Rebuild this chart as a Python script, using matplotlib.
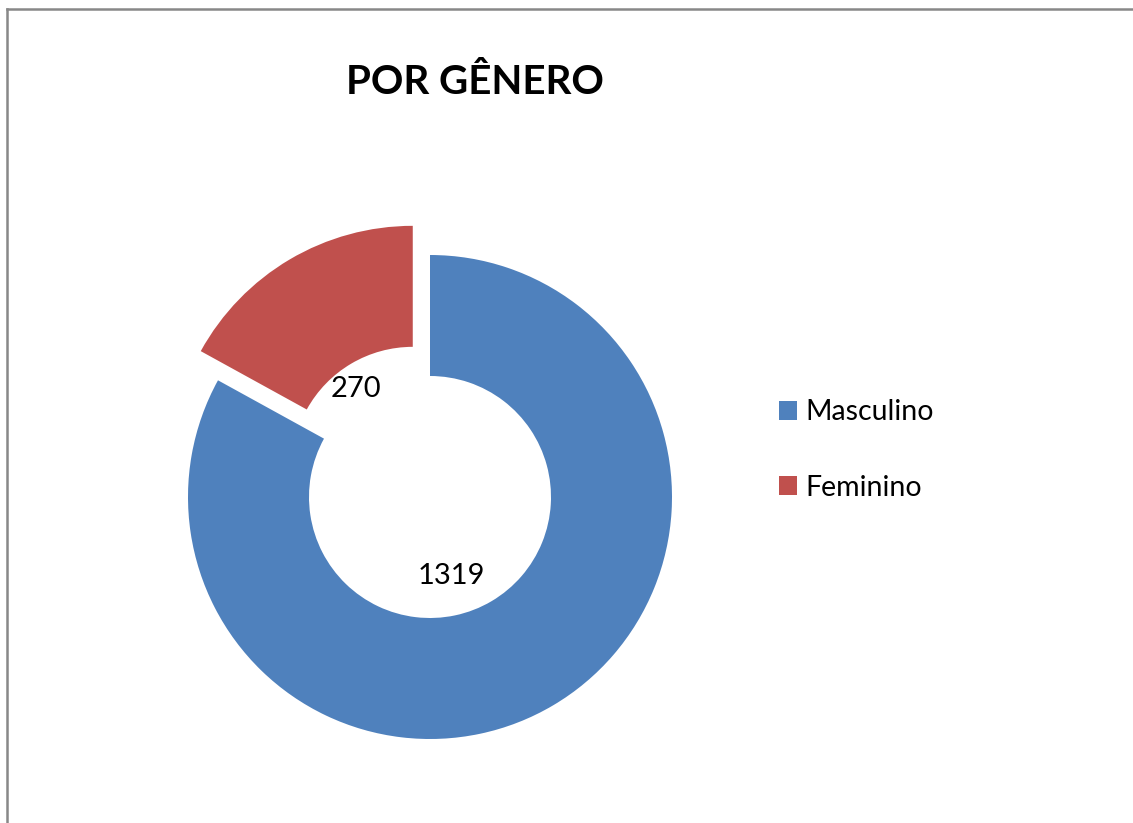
import matplotlib
matplotlib.use("Agg")
import matplotlib.pyplot as plt
from matplotlib.patches import Patch
from matplotlib.lines import Line2D

plt.rcParams['font.family'] = ['Lato', 'DejaVu Sans']

title = "POR GÊNERO"
categories = ["Masculino", "Feminino"]
values = [1319, 270]
colors = ["#4F81BD", "#C0504D"]
explode = [0, 0.14]
label_pos = [(0.09, -0.327), (-0.306, 0.446)]

W, H = 1133, 823
fig = plt.figure(figsize=(W / 100, H / 100), dpi=100)
fig.patch.set_facecolor("white")

# chart border (left and top visible)
bc = "#888888"
fig.add_artist(Line2D([7 / W, 7 / W], [0, 1 - 9 / H], transform=fig.transFigure, color=bc, lw=1.8))
fig.add_artist(Line2D([7 / W, 1], [1 - 9 / H, 1 - 9 / H], transform=fig.transFigure, color=bc, lw=1.8))

cx, cy, R = 430, 497, 242
half = 300
ax = fig.add_axes([(cx - half) / W, (H - cy - half) / H, 2 * half / W, 2 * half / H])
wedges, _ = ax.pie(values, colors=colors, explode=explode, startangle=90, counterclock=False,
                   radius=1.0, wedgeprops=dict(width=0.5, linewidth=0))
lim = half / R
ax.set_xlim(-lim, lim)
ax.set_ylim(-lim, lim)
ax.axis("off")

for v, (x, y) in zip(values, label_pos):
    ax.text(x, y, str(v), ha="center", va="center", fontsize=21, color="black")

fig.text(475 / W, 1 - 82 / H, title, ha="center", va="center", fontsize=29, fontweight="bold")

handles = [Patch(facecolor=c, edgecolor="none") for c in colors]
fig.legend(handles, categories, loc="center left", bbox_to_anchor=(779 / W, 1 - 450 / H),
           frameon=False, fontsize=20.5, handlelength=0.63, handleheight=0.63,
           handletextpad=0.28, labelspacing=1.73, borderpad=0, borderaxespad=0)

fig.savefig("out.png", dpi=100, facecolor="white")
